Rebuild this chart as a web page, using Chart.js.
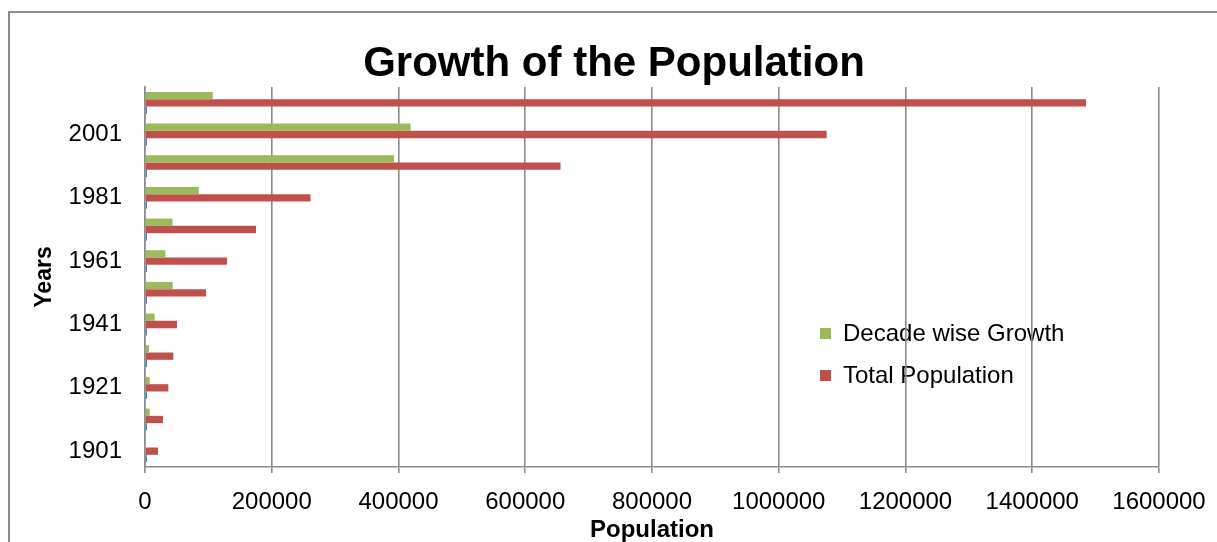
<!DOCTYPE html>
<html>
<head>
<meta charset="utf-8">
<title>Growth of the Population</title>
<script src="https://cdn.jsdelivr.net/npm/chart.js@4.4.1/dist/chart.umd.min.js"></script>
<style>
  html, body { margin: 0; padding: 0; background: #fff; overflow: hidden; }
  #frame {
    position: absolute; left: 8px; top: 11px;
    width: 1240px; height: 560px;
    border: 2px solid #8c8c8c; box-sizing: border-box;
  }
  #wrap { position: absolute; left: 0; top: 0; width: 1217px; height: 542px; }
</style>
</head>
<body>
<div id="frame"></div>
<div id="wrap"><canvas id="chart"></canvas></div>
<script>
(function () {
  'use strict';

  /* ------------------------------------------
     DATA
     ------------------------------------------ */
  var years = ['1901', '1911', '1921', '1931', '1941', '1951',
               '1961', '1971', '1981', '1991', '2001', '2011'];
  var decadeGrowth = [null, 7400, 7400, 6300, 15300, 43700,
                      32200, 43500, 85000, 393000, 419000, 107000];
  var totalPopulation = [20500, 28400, 36800, 44700, 50500, 96300,
                         129400, 175200, 261200, 655700, 1075600, 1485000];
  // the sheet also plotted the year column itself as a (nearly invisible) series
  var yearValues = [1901, 1911, 1921, 1931, 1941, 1951,
                    1961, 1971, 1981, 1991, 2001, 2011];
  var xTicks = [0, 200000, 400000, 600000, 800000, 1000000, 1200000, 1400000, 1600000];

  var chartTitle = 'Growth of the Population';
  var seriesNames = ['Decade wise Growth', 'Total Population', 'Years'];
  var seriesColors = ['#9BBB59', '#C0504D', '#4F81BD'];

  var FONT = "'Liberation Sans', Arial, sans-serif";
  var GRID = '#8c8c8c';

  /* ------------------------------------------
     TITLE + LEGEND — the title is centred on the whole
     frame (not the plot), the legend sits inside the plot
     ------------------------------------------ */
  var decorations = {
    id: 'decorations',
    beforeDraw: function (chart) {
      var ctx = chart.ctx;
      ctx.save();
      ctx.fillStyle = '#000';
      ctx.textBaseline = 'middle';
      ctx.textAlign = 'center';
      ctx.font = 'bold 42px ' + FONT;
      ctx.fillText(chartTitle, 614, 64);

      var x = 820, y = 334, gap = 42;
      ctx.font = '24px ' + FONT;
      ctx.textAlign = 'left';
      for (var i = 0; i < 2; i++) {
        ctx.fillStyle = seriesColors[i];
        ctx.fillRect(x, y + i * gap - 6, 11, 11);
        ctx.fillStyle = '#000';
        ctx.fillText(seriesNames[i], x + 23, y + i * gap);
      }
      ctx.restore();
    }
  };

  var ctx = document.getElementById('chart').getContext('2d');

  new Chart(ctx, {
    type: 'bar',
    data: {
      labels: years,
      datasets: [
        { label: seriesNames[0], data: decadeGrowth, backgroundColor: seriesColors[0] },
        { label: seriesNames[1], data: totalPopulation, backgroundColor: seriesColors[1] },
        { label: seriesNames[2], data: yearValues, backgroundColor: seriesColors[2], minBarLength: 2 }
      ]
    },
    plugins: [decorations],
    options: {
      indexAxis: 'y',
      responsive: true,
      maintainAspectRatio: false,
      animation: false,
      devicePixelRatio: 1,
      categoryPercentage: 0.69,
      barPercentage: 1.0,
      layout: { padding: { left: 0, right: 58, top: 87, bottom: 0 } },
      plugins: {
        legend: { display: false },
        tooltip: { enabled: false },
        title: { display: false }
      },
      scales: {
        x: {
          min: xTicks[0],
          max: xTicks[xTicks.length - 1],
          afterFit: function (scale) {
            scale.height = 75;
            scale.paddingLeft = 0;
            scale.paddingRight = 0;
          },
          grid: { color: GRID, lineWidth: 1.6, tickLength: 6, drawTicks: true },
          border: { display: true, color: GRID, width: 1.6 },
          ticks: {
            stepSize: xTicks[1] - xTicks[0],
            autoSkip: false,
            maxRotation: 0,
            color: '#000',
            padding: 17,
            font: { family: FONT, size: 24, lineHeight: 1 },
            callback: function (val) { return String(val); }
          },
          title: {
            display: true,
            text: 'Population',
            color: '#000',
            font: { family: FONT, size: 24, weight: 'bold', lineHeight: 1 },
            padding: { top: 0, bottom: 0 }
          }
        },
        y: {
          type: 'category',
          reverse: true,
          afterFit: function (scale) { scale.width = 145; },
          grid: { display: false, drawTicks: false },
          border: { display: true, color: GRID, width: 1.6 },
          ticks: {
            autoSkip: false,
            color: '#000',
            padding: 23,
            font: { family: FONT, size: 24, lineHeight: 1 },
            callback: function (val, i) { return i % 2 === 0 ? years[i] : ''; }
          },
          title: {
            display: true,
            text: 'Years',
            color: '#000',
            font: { family: FONT, size: 23, weight: 'bold', lineHeight: 1 },
            padding: { top: 33, bottom: 0 }
          }
        }
      }
    }
  });
})();
</script>
</body>
</html>
